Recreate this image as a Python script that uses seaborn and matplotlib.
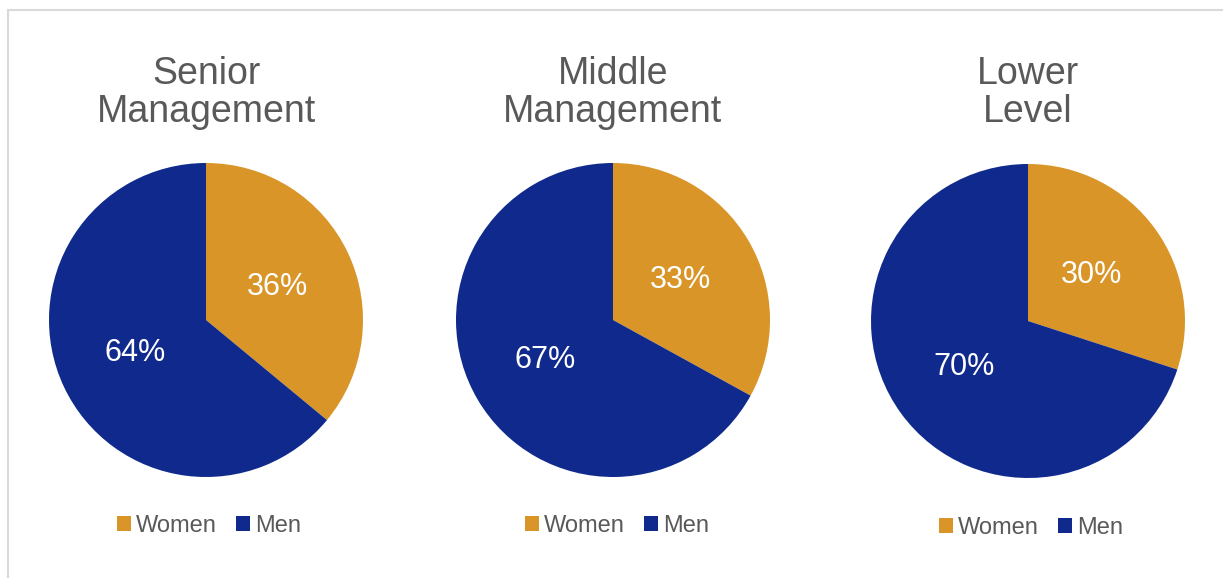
import matplotlib
matplotlib.use("Agg")
import matplotlib.pyplot as plt
import seaborn as sns
from matplotlib.patches import Patch
from matplotlib.lines import Line2D

sns.set_theme(style="white")
plt.rcParams['font.family'] = ['Liberation Sans', 'DejaVu Sans']

# data
levels = ["Senior\nManagement", "Middle\nManagement", "Lower\nLevel"]
genders = ["Women", "Men"]
women_pct = [36, 33, 30]
men_pct = [64, 67, 70]
colors = ["#D99527", "#0F2A8C"]

W, H = 1223, 578
fig = plt.figure(figsize=(W / 100, H / 100), dpi=100)

# light frame around the chart area
fig.add_artist(Line2D([8 / W, 1], [1 - 10 / H, 1 - 10 / H], color="#d9d9d9", lw=1.5))
fig.add_artist(Line2D([8 / W, 8 / W], [0, 1 - 10 / H], color="#d9d9d9", lw=1.5))

centers = [(206, 320), (613, 320), (1028, 321)]
legend_pos = [(209, 526), (617, 526), (1031, 528)]
r = 157
side = 2.5 * r

for i, level in enumerate(levels):
    cx, cy = centers[i]
    ax = fig.add_axes([(cx - side / 2) / W, (H - cy - side / 2) / H, side / W, side / H])
    vals = [women_pct[i], men_pct[i]]
    wedges, texts = ax.pie(vals, colors=colors, startangle=90, counterclock=False,
                           labels=[f"{v}%" for v in vals], labeldistance=0.5,
                           wedgeprops=dict(linewidth=0, edgecolor="none"),
                           textprops=dict(color="white", fontsize=22, ha="center", va="center"))
    ax.set_xlim(-1.25, 1.25)
    ax.set_ylim(-1.25, 1.25)
    ax.set_aspect("equal")
    fig.text(cx / W, 1 - 93 / H, level, ha="center", va="center", fontsize=27,
             color="#595959", linespacing=1.1)
    lx, ly = legend_pos[i]
    handles = [Patch(facecolor=c, edgecolor="none", label=g) for c, g in zip(colors, genders)]
    fig.legend(handles=handles, loc="center", bbox_to_anchor=(lx / W, 1 - ly / H),
               ncol=2, frameon=False, fontsize=17, labelcolor="#595959",
               handlelength=0.6, handleheight=0.6, handletextpad=0.2, columnspacing=0.8)

fig.savefig("out.png", dpi=100)
